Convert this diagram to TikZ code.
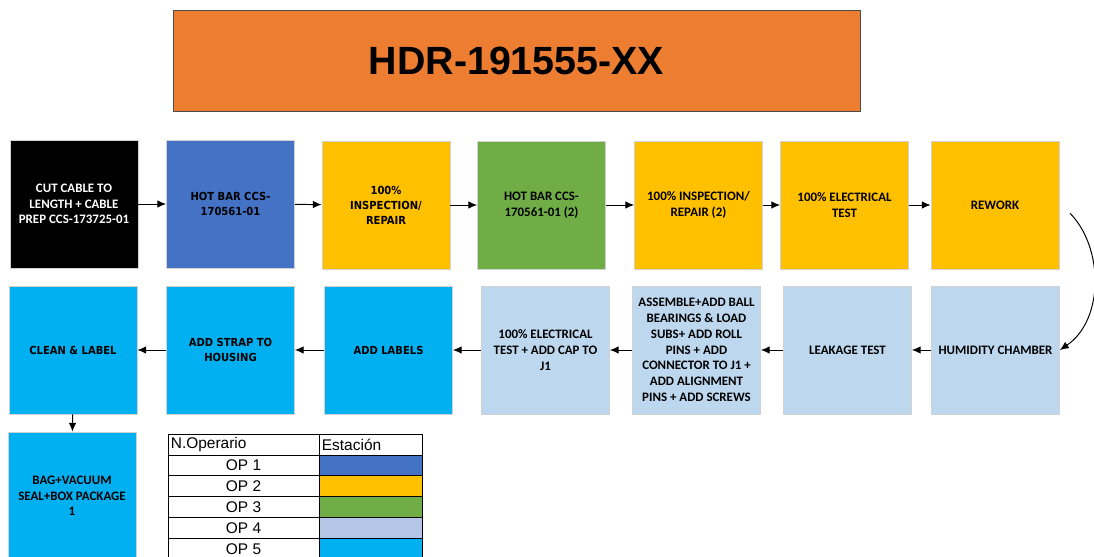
\documentclass[tikz,border=0pt]{standalone}
\usepackage{fontspec}
\setmainfont{Carlito}
\newfontfamily\verdfont{DejaVu Sans Condensed}
\newfontfamily\arialfont{Liberation Sans}
\usetikzlibrary{arrows.meta}

\definecolor{titleorange}{HTML}{ED7D31}
\definecolor{opblue}{HTML}{4472C4}
\definecolor{opyellow}{HTML}{FFC000}
\definecolor{opgreen}{HTML}{70AD47}
\definecolor{oplight}{HTML}{BDD7EE}
\definecolor{oplegend}{HTML}{B4C7E7}
\definecolor{opcyan}{HTML}{00B0F0}

\tikzset{
  stepbox/.style={draw=gray!35, line width=0.6pt, minimum width=3.2cm, minimum height=3.2cm,
    align=center, inner sep=1pt, font=\bfseries\fontsize{9.2}{11.2}\selectfont},
  verdbox/.style={stepbox, font=\verdfont\bfseries\fontsize{7.9}{10.7}\selectfont},
  cell/.style={draw=black, line width=0.6pt, minimum height=0.52cm, inner sep=0pt,
    font=\arialfont\fontsize{11}{12}\selectfont},
  flow/.style={-{Latex[length=2.2mm,width=1.9mm]}, line width=0.7pt}
}

\begin{document}
\begin{tikzpicture}
\useasboundingbox (0,0) rectangle (27.35,-13.925);
% Title
\node[draw=black!70, line width=0.6pt, fill=titleorange, minimum width=17.175cm, minimum height=2.525cm,
  font=\arialfont\bfseries\fontsize{28}{32}\selectfont] (title) at (12.9125,-1.5125) {HDR-191555-XX};
% Nodes, first row
\node[stepbox, fill=black, text=white] (cut) at (1.85,-5.1) {CUT CABLE TO\\LENGTH + CABLE\\PREP CCS-173725-01};
\node[verdbox, fill=opblue] (hotbar) at (5.7625,-5.1) {HOT BAR CCS-\\170561-01};
\node[verdbox, fill=opyellow] (insp) at (9.65,-5.125) {100\%\\INSPECTION/\\REPAIR};
\node[stepbox, fill=opgreen] (hotbartwo) at (13.5375,-5.125) {HOT BAR CCS-\\170561-01 (2)};
\node[stepbox, fill=opyellow] (insptwo) at (17.4625,-5.125) {100\% INSPECTION/\\REPAIR (2)};
\node[stepbox, fill=opyellow] (elec) at (21.1125,-5.125) {100\% ELECTRICAL\\TEST};
\node[stepbox, fill=opyellow] (rework) at (24.875,-5.125) {REWORK};
% Nodes, second row
\node[stepbox, fill=oplight] (humid) at (24.8875,-8.75) {HUMIDITY CHAMBER};
\node[stepbox, fill=oplight] (leak) at (21.1875,-8.75) {LEAKAGE TEST};
\node[stepbox, fill=oplight] (assy) at (17.4125,-8.75) {ASSEMBLE+ADD BALL\\BEARINGS \& LOAD\\SUBS+ ADD ROLL\\PINS + ADD\\CONNECTOR TO J1 +\\ADD ALIGNMENT\\PINS + ADD SCREWS};
\node[stepbox, fill=oplight] (electwo) at (13.6375,-8.75) {100\% ELECTRICAL\\TEST + ADD CAP TO\\J1};
\node[verdbox, fill=opcyan] (labels) at (9.7125,-8.75) {ADD LABELS};
\node[verdbox, fill=opcyan] (strap) at (5.7625,-8.75) {ADD STRAP TO\\HOUSING};
\node[verdbox, fill=opcyan] (clean) at (1.825,-8.75) {CLEAN \& LABEL};
% Nodes, last step
\node[stepbox, fill=opcyan] (bag) at (1.8,-12.4) {BAG+VACUUM\\SEAL+BOX PACKAGE\\1};
% Legend
\node[cell, minimum width=3.775cm, text width=3.63cm, inner xsep=2pt, align=left] (hdrop) at (6.0875,-11.115) {N.Operario};
\node[cell, minimum width=2.575cm, text width=2.43cm, inner xsep=2pt, align=left] (hdrst) at (9.2625,-11.115) {Estación};
\node[cell, minimum width=3.775cm] (opone) at (6.0875,-11.6375) {OP 1};
\node[cell, minimum width=2.575cm, fill=opblue] (stone) at (9.2625,-11.6375) {};
\node[cell, minimum width=3.775cm] (optwo) at (6.0875,-12.158) {OP 2};
\node[cell, minimum width=2.575cm, fill=opyellow] (sttwo) at (9.2625,-12.158) {};
\node[cell, minimum width=3.775cm] (opthree) at (6.0875,-12.68) {OP 3};
\node[cell, minimum width=2.575cm, fill=opgreen] (stthree) at (9.2625,-12.68) {};
\node[cell, minimum width=3.775cm] (opfour) at (6.0875,-13.2) {OP 4};
\node[cell, minimum width=2.575cm, fill=oplegend] (stfour) at (9.2625,-13.2) {};
\node[cell, minimum width=3.775cm] (opfive) at (6.0875,-13.72) {OP 5};
\node[cell, minimum width=2.575cm, fill=opcyan] (stfive) at (9.2625,-13.72) {};
% Edges
\draw[flow] (cut) -- (hotbar);
\draw[flow] (hotbar) -- (insp);
\draw[flow] (insp) -- (hotbartwo);
\draw[flow] (hotbartwo) -- (insptwo);
\draw[flow] (insptwo) -- (elec);
\draw[flow] (elec) -- (rework);
\coordinate (bend) at (26.75,-5.33);
\draw[flow] (bend) .. controls (27.6,-6.2) and (27.6,-8.0) .. (humid.east);
\draw[flow] (humid) -- (leak);
\draw[flow] (leak) -- (assy);
\draw[flow] (assy) -- (electwo);
\draw[flow] (electwo) -- (labels);
\draw[flow] (labels) -- (strap);
\draw[flow] (strap) -- (clean);
\draw[flow] (clean) -- (bag);
\end{tikzpicture}
\end{document}
